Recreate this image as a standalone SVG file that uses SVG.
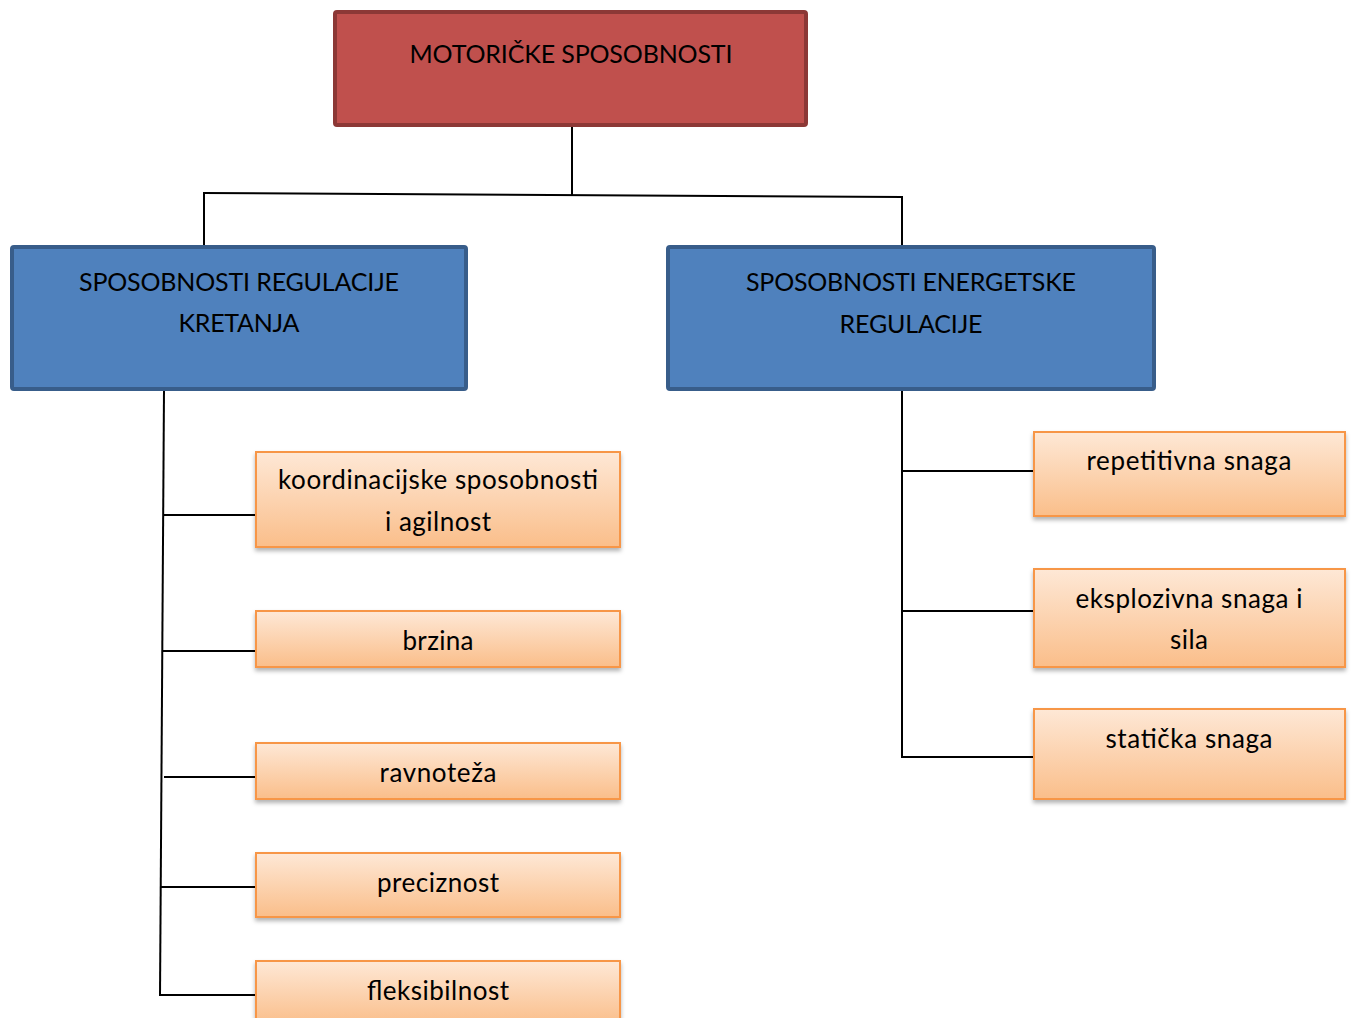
<svg xmlns="http://www.w3.org/2000/svg" width="1352" height="1018" viewBox="0 0 1352 1018">
<defs>
<linearGradient id="og" x1="0" y1="0" x2="0" y2="1">
<stop offset="0" stop-color="#FEE8D6"/>
<stop offset="1" stop-color="#FABE8A"/>
</linearGradient>
<filter id="sh" x="-5%" y="-10%" width="110%" height="130%">
<feDropShadow dx="0" dy="3" stdDeviation="2" flood-color="#000" flood-opacity="0.3"/>
</filter>
</defs>
<style>
text{font-family:Lato,"Liberation Sans","DejaVu Sans",sans-serif;fill:#000;text-anchor:middle;font-size:26px}
text.up{font-size:25px}
.red{fill:#C0504D;stroke:#8C3836;stroke-width:4}
.blue{fill:#4F81BD;stroke:#385D8A;stroke-width:4}
.org{fill:url(#og);stroke:#F79646;stroke-width:2;filter:url(#sh)}
.con line{stroke:#000;stroke-width:2;fill:none}
</style>
<rect width="1352" height="1018" fill="#fff"/>
<g class="con">
<line x1="572" y1="126" x2="572" y2="196"/>
<line x1="203" y1="193" x2="903" y2="197"/>
<line x1="204" y1="193" x2="204" y2="246"/>
<line x1="902" y1="197" x2="902" y2="246"/>
<line x1="164" y1="390" x2="160" y2="996"/>
<line x1="163" y1="515" x2="256" y2="515"/>
<line x1="163" y1="651" x2="256" y2="651"/>
<line x1="164" y1="777" x2="256" y2="777"/>
<line x1="161" y1="887" x2="256" y2="887"/>
<line x1="160" y1="995" x2="256" y2="995"/>
<line x1="902" y1="390" x2="902" y2="758"/>
<line x1="902" y1="471" x2="1034" y2="471"/>
<line x1="902" y1="611" x2="1034" y2="611"/>
<line x1="902" y1="757" x2="1034" y2="757"/>
</g>
<g id="motoricke">
<rect class="red" x="335" y="12" width="471" height="113" rx="2"/>
<text class="up" x="571" y="63" textLength="323">MOTORIČKE SPOSOBNOSTI</text>
</g>
<g id="regulacije-kretanja">
<rect class="blue" x="12" y="247" width="454" height="142" rx="2"/>
<text class="up" x="239" y="291" textLength="320">SPOSOBNOSTI REGULACIJE</text>
<text class="up" x="239" y="332" textLength="121">KRETANJA</text>
</g>
<g id="energetske-regulacije">
<rect class="blue" x="668" y="247" width="486" height="142" rx="2"/>
<text class="up" x="911" y="291" textLength="330">SPOSOBNOSTI ENERGETSKE</text>
<text class="up" x="911" y="333" textLength="143">REGULACIJE</text>
</g>
<g id="koordinacijske">
<rect class="org" x="256" y="452" width="364" height="95"/>
<text x="438" y="489" textLength="320">koordinacijske sposobnosti</text>
<text x="438" y="531" textLength="106">i agilnost</text>
</g>
<g id="brzina">
<rect class="org" x="256" y="611" width="364" height="56"/>
<text x="438" y="650" textLength="71">brzina</text>
</g>
<g id="ravnoteza">
<rect class="org" x="256" y="743" width="364" height="56"/>
<text x="438" y="782" textLength="117">ravnoteža</text>
</g>
<g id="preciznost">
<rect class="org" x="256" y="853" width="364" height="64"/>
<text x="438" y="892" textLength="122">preciznost</text>
</g>
<g id="fleksibilnost">
<rect class="org" x="256" y="961" width="364" height="64"/>
<text x="438" y="1000" textLength="142">fleksibilnost</text>
</g>
<g id="repetitivna">
<rect class="org" x="1034" y="432" width="311" height="84"/>
<text x="1189" y="470" textLength="205">repetitivna snaga</text>
</g>
<g id="eksplozivna">
<rect class="org" x="1034" y="569" width="311" height="98"/>
<text x="1189" y="608" textLength="227">eksplozivna snaga i</text>
<text x="1189" y="649" textLength="38">sila</text>
</g>
<g id="staticka">
<rect class="org" x="1034" y="709" width="311" height="90"/>
<text x="1189" y="748" textLength="167">statička snaga</text>
</g>
</svg>
